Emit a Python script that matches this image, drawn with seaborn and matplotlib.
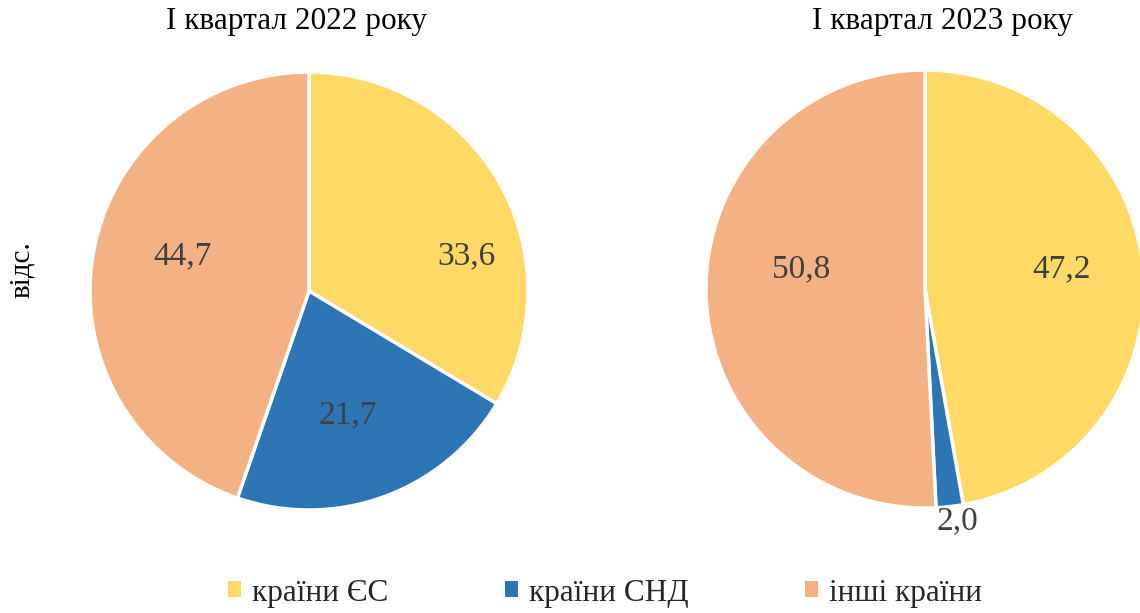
import numpy as np
import matplotlib
matplotlib.use("Agg")
import matplotlib.pyplot as plt
import seaborn as sns
from matplotlib.patches import Patch

sns.set_theme(style="white")
plt.rcParams['font.family'] = ['Liberation Serif', 'DejaVu Serif']

# --- data ---
categories = ['країни ЄС', 'країни СНД', 'інші країни']
titles = ['I квартал 2022 року', 'I квартал 2023 року']
values_2022 = [33.6, 21.7, 44.7]
values_2023 = [47.2, 2.0, 50.8]
colors = ['#FFD966', '#2E75B6', '#F4B183']

# label placement (radius fraction, angle in degrees) per wedge
label_pos_2022 = [(0.735, 12.6), (0.595, -72.5), (0.60, 164.5)]
label_pos_2023 = [(0.63, 8.3), (1.07, -82.1), (0.575, 170.8)]

W, H = 1140, 613
fig = plt.figure(figsize=(W / 100, H / 100), dpi=100)


def pie_axes(cx, cy, r):
    return fig.add_axes([(cx - r) / W, 1 - (cy + r) / H, 2 * r / W, 2 * r / H])


def draw(ax, vals, title, label_pos, title_x):
    ax.pie(vals, colors=colors, startangle=90, counterclock=False,
           wedgeprops=dict(edgecolor='white', linewidth=2.5))
    for v, (r, a) in zip(vals, label_pos):
        t = np.deg2rad(a)
        ax.text(r * np.cos(t), r * np.sin(t), f'{v:.1f}'.replace('.', ','),
                ha='center', va='center', fontsize=24, color='#404040')
    ax.set_xlim(-1, 1)
    ax.set_ylim(-1, 1)
    ax.set_aspect('equal')
    ax.axis('off')
    fig.text(title_x / W, 1 - 22 / H, title, ha='center', va='center',
             fontsize=22.5, color='black')


ax1 = pie_axes(309, 291, 219)
draw(ax1, values_2022, titles[0], label_pos_2022, 296)
ax2 = pie_axes(925, 289, 219)
draw(ax2, values_2023, titles[1], label_pos_2023, 942)

fig.text(22 / W, 1 - 270 / H, 'відс.', rotation=90, ha='center', va='center',
         fontsize=21, color='black')

handles = [Patch(facecolor=c, edgecolor='none') for c in colors]
fig.legend(handles, categories, loc='center', bbox_to_anchor=(605 / W, 1 - 593 / H),
           ncol=3, frameon=False, fontsize=22.5, handlelength=0.4, handleheight=0.4,
           handletextpad=0.35, columnspacing=3.75)

fig.savefig('out.png', dpi=100)
